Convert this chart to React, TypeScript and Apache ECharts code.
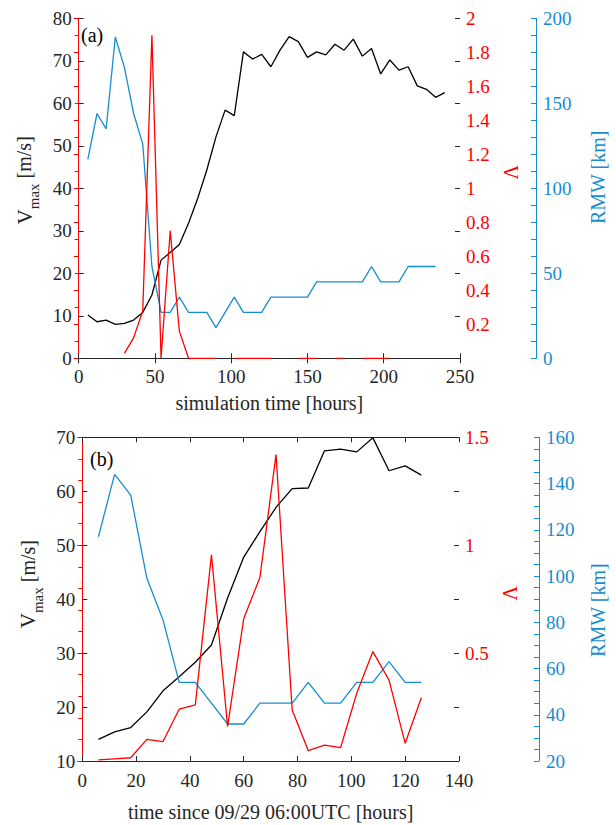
import React, { useEffect, useRef } from 'react';
import * as echarts from 'echarts';

// ---------- Panel (a): simulation ----------
const timeA = [6, 12, 18, 24, 30, 36, 42, 48, 54, 60, 66, 72, 78, 84, 90, 96, 102, 108, 114, 120,
  126, 132, 138, 144, 150, 156, 162, 168, 174, 180, 186, 192, 198, 204, 210, 216, 222, 228, 234, 240];
const vmaxA = [10.2, 8.6, 9.0, 8.0, 8.2, 9.0, 10.8, 14.9, 23.1, 24.9, 26.8, 31.8, 37.6, 44.3, 52.1, 58.4, 57.1, 72.1, 70.4, 71.5,
  68.6, 72.5, 75.7, 74.5, 70.8, 72.1, 71.4, 73.9, 72.5, 75.1, 71.1, 72.9, 66.9, 70.2, 67.8, 68.6, 64.1, 63.3, 61.4, 62.5];
const lambdaA: (number | null)[] = [null, null, null, null, 0.03, 0.12, 0.28, 1.9, 0.0, 0.75, 0.16, 0, 0, 0, 0, null, 0, 0, 0, 0,
  0, null, null, 0, 0, 0, null, 0, 0, null, 0, 0, 0, 0, null, null, null, null, null, null];
const rmwA = [117, 144, 135, 189, 171, 144, 126, 54, 27, 27, 36, 27, 27, 27, 18, 27, 36, 27, 27, 27,
  36, 36, 36, 36, 36, 45, 45, 45, 45, 45, 45, 54, 45, 45, 45, 54, 54, 54, 54];

// ---------- Panel (b): since 09/29 06:00UTC ----------
const timeB = [6, 12, 18, 24, 30, 36, 42, 48, 54, 60, 66, 72, 78, 84, 90, 96, 102, 108, 114, 120, 126];
const vmaxB = [14.0, 15.4, 16.2, 19.1, 23.0, 25.6, 28.3, 31.5, 40.2, 47.8, 52.5, 57.0, 60.5, 60.6, 67.5, 67.8, 67.3, 69.9, 63.8, 64.7, 63.0];
const lambdaB = [0.005, 0.01, 0.015, 0.1, 0.09, 0.24, 0.26, 0.955, 0.16, 0.66, 0.85, 1.42, 0.236, 0.048, 0.074, 0.062, 0.314, 0.507, 0.375, 0.082, 0.293];
const rmwB = [117, 144, 135, 99, 81, 54, 54, 45, 36, 36, 45, 45, 45, 54, 45, 45, 54, 54, 63, 54, 54];

const xTitleA = 'simulation time [hours]';
const xTitleB = 'time since 09/29 06:00UTC [hours]';

const FONT = '"Liberation Serif", "Times New Roman", serif';
const INK = '#262626';
const RED = '#ff0000';
const BLUE = '#168dcf';
const TICK_FS = 19;
const TITLE_FS = 20;

const pairs = (xs: number[], ys: (number | null)[]) =>
  ys.map((v, i) => [xs[i], v === null ? '-' : v]);

const lbl = (color: string, margin: number, hideZero = false) => ({
  color,
  fontFamily: FONT,
  fontSize: TICK_FS,
  margin,
  formatter: (v: number) => (hideZero && v === 0 ? '' : String(Math.round(v * 100) / 100)),
});

const vmaxName = '{v|V}{s|max}{u| [m/s]}';
const vmaxRich = {
  v: { fontSize: 21, fontFamily: FONT, color: INK, lineHeight: 18, verticalAlign: 'top' },
  s: { fontSize: 15, fontFamily: FONT, color: INK, lineHeight: 40 },
  u: { fontSize: 20, fontFamily: FONT, color: INK, lineHeight: 18, verticalAlign: 'top' },
};

function buildOption() {
  const xBottom = (gridIndex: number, max: number, interval: number, name: string, gap: number, margin: number) => ({
    type: 'value', gridIndex, position: 'bottom', min: 0, max, interval, z: 3,
    name, nameLocation: 'middle', nameGap: gap,
    nameTextStyle: { color: INK, fontFamily: FONT, fontSize: TITLE_FS },
    axisLine: { show: true, lineStyle: { color: INK, width: 1 } },
    axisTick: { show: true, inside: true, length: 5, lineStyle: { color: INK } },
    axisLabel: lbl(INK, margin),
    splitLine: { show: false },
  });
  const xTop = (gridIndex: number, max: number, interval: number) => ({
    type: 'value', gridIndex, position: 'top', min: 0, max, interval,
    axisLine: { show: true, lineStyle: { color: INK, width: 1 } },
    axisTick: { show: true, inside: true, length: 5, lineStyle: { color: INK } },
    axisLabel: { show: false },
    splitLine: { show: false },
  });
  const yLeft = (gridIndex: number, min: number, max: number, gap: number, pad: number) => ({
    type: 'value', gridIndex, position: 'left', min, max, interval: 10,
    name: vmaxName, nameLocation: 'middle', nameGap: gap, nameRotate: 90,
    nameTextStyle: { rich: vmaxRich, padding: [0, 0, 0, pad] },
    axisLine: { show: true, lineStyle: { color: INK, width: 1 } },
    axisTick: { show: true, inside: true, length: 5, lineStyle: { color: INK } },
    axisLabel: lbl(INK, 7),
    splitLine: { show: false },
  });
  const yMirror = (gridIndex: number, min: number, max: number) => ({
    type: 'value', gridIndex, position: 'right', offset: 0, min, max, interval: 10,
    axisLine: { show: false },
    axisTick: { show: true, inside: true, length: 5, lineStyle: { color: INK } },
    axisLabel: { show: false },
    splitLine: { show: false },
  });
  const yRed = (gridIndex: number, max: number, interval: number, minorSplit: number, gap: number, pad: number[]) => ({
    type: 'value', gridIndex, position: 'right', offset: 0, min: 0, max, interval,
    name: 'Λ', nameLocation: 'middle', nameGap: gap, nameRotate: 90,
    nameTextStyle: { color: RED, fontFamily: FONT, fontSize: TITLE_FS, padding: pad },
    axisLine: { show: true, lineStyle: { color: RED, width: 1 } },
    axisTick: { show: true, inside: true, length: 5, lineStyle: { color: RED } },
    minorTick: { show: true, splitNumber: minorSplit, length: 4, lineStyle: { color: RED } },
    axisLabel: lbl(RED, 6, true),
    splitLine: { show: false },
  });
  const yBlue = (gridIndex: number, min: number, max: number, interval: number, minorSplit: number, offset: number, gap: number, pad: number[]) => ({
    type: 'value', gridIndex, position: 'right', offset, min, max, interval,
    name: 'RMW [km]', nameLocation: 'middle', nameGap: gap, nameRotate: 90,
    nameTextStyle: { color: BLUE, fontFamily: FONT, fontSize: TITLE_FS, padding: pad },
    axisLine: { show: true, lineStyle: { color: BLUE, width: 1 } },
    axisTick: { show: true, inside: true, length: 5, lineStyle: { color: BLUE } },
    minorTick: { show: true, splitNumber: minorSplit, length: 5, lineStyle: { color: BLUE } },
    axisLabel: lbl(BLUE, 7),
    splitLine: { show: false },
  });

  const line = (xAxisIndex: number, yAxisIndex: number, data: any[], color: string, clip = true) => ({
    type: 'line', xAxisIndex, yAxisIndex, data, symbol: 'none', clip,
    connectNulls: false,
    lineStyle: { color, width: 1.3 },
    itemStyle: { color },
  });

  return {
    animation: false,
    backgroundColor: '#ffffff',
    textStyle: { fontFamily: FONT },
    grid: [
      { left: 78.7, top: 18.3, width: 390, height: 340 },
      { left: 82.3, top: 437.3, width: 385, height: 323.7 },
    ],
    xAxis: [
      xBottom(0, 250, 50, xTitleA, 35, 9),
      xTop(0, 250, 50),
      xBottom(1, 140, 20, xTitleB, 41, 10),
      xTop(1, 140, 20),
    ],
    yAxis: [
      yLeft(0, 0, 80, 22, 16),
      yRed(0, 2, 0.2, 2, 41, [0, 0, 0, 32]),
      yBlue(0, 0, 200, 50, 5, 76, 52, [0, 0, 0, 22]),
      yMirror(0, 0, 80),
      yLeft(1, 10, 70, 19, 30),
      yRed(1, 1.5, 0.5, 5, 35, [0, 0, 0, 12]),
      yBlue(1, 20, 160, 20, 4, 80, 49, [0, 22, 0, 0]),
      yMirror(1, 10, 70),
    ],
    series: [
      line(0, 0, pairs(timeA, vmaxA), '#000000'),
      line(0, 2, pairs(timeA, rmwA), BLUE),
      line(0, 1, pairs(timeA, lambdaA), RED, false),
      line(2, 4, pairs(timeB, vmaxB), '#000000'),
      line(2, 6, pairs(timeB, rmwB), BLUE),
      line(2, 5, pairs(timeB, lambdaB), RED),
    ],
    graphic: [
      { type: 'text', left: 81, top: 25, style: { text: '(a)', fill: '#000', font: `20px ${FONT}` } },
      { type: 'text', left: 90, top: 449, style: { text: '(b)', fill: '#000', font: `20px ${FONT}` } },
    ],
  };
}

export default function App() {
  const ref = useRef<HTMLDivElement>(null);
  useEffect(() => {
    document.body.style.margin = '0';
    const chart = echarts.init(ref.current as HTMLDivElement, null, { renderer: 'svg' });
    chart.setOption(buildOption() as any);
    return () => chart.dispose();
  }, []);
  return (
    <div
      ref={ref}
      style={{ position: 'absolute', left: 0, top: 0, width: 616, height: 825, background: '#fff' }}
    />
  );
}
